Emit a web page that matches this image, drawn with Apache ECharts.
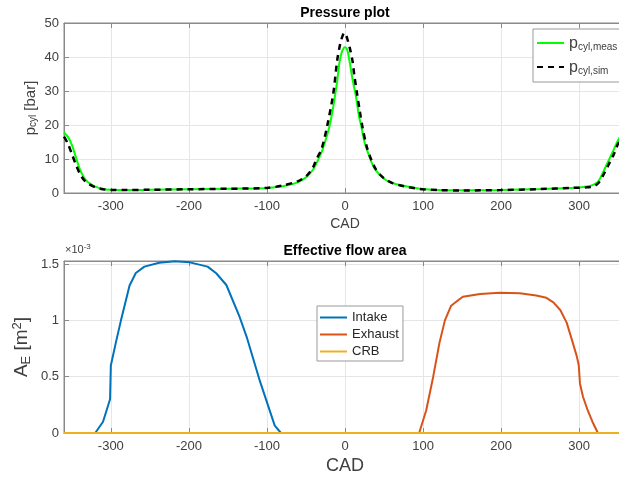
<!DOCTYPE html>
<html><head><meta charset="utf-8">
<script src="https://cdn.jsdelivr.net/npm/echarts@6/dist/echarts.min.js"></script>
<style>html,body{margin:0;padding:0;background:#fff}#c{width:619px;height:480px}</style>
</head><body><div id="c"></div>
<script>
// ---- tick labels ----
const cadTicks = [-300, -200, -100, 0, 100, 200, 300];
const pressureTicks = [0, 10, 20, 30, 40, 50];
const areaTicks = [0, 0.5, 1, 1.5]; // in 1e-3 m^2

// ---- pressure plot (bar) ----
const pMeasCad = [-360,-355,-350,-345,-340,-335,-330,-320,-310,-300,-290,-280,-250,-200,-150,-120,-100,-90,-80,-70,-60,-50,-45,-40,-35,-30,-25,-20,-15,-10,-7,-4,0,3,6,10,14,18,21,25,30,35,40,50,60,70,80,90,100,120,150,200,250,290,300,310,318,325,331,337,344,350,360];
const pMeasVal = [17.8,16.5,14.2,10.7,7.2,4.8,3.3,1.9,1.2,0.95,0.85,0.85,0.95,1.1,1.25,1.35,1.5,1.7,2.0,2.5,3.2,4.6,5.7,7.2,9.5,12.0,15.5,19.5,25.5,33,38.5,41.5,42.9,42,38.5,33,28.5,22.5,19.5,15,11.5,8.5,6.5,4.2,3.0,2.35,1.9,1.5,1.2,0.9,0.8,0.9,1.2,1.5,1.6,1.9,2.4,3.6,6.3,9.2,12.6,15.6,19];
const pSimCad = [-360,-355,-350,-345,-340,-335,-330,-320,-310,-300,-280,-250,-200,-150,-100,-80,-60,-50,-45,-40,-37,-30,-23,-15,-10,-6,-3,-1,1,3,6,9.5,12,15.4,19,22.3,28,33.8,40,50,60,70,80,90,100,120,150,200,250,290,300,310,318,325,331,337,344,350,360];
const pSimVal = [16.6,14.5,11.5,8.5,5.8,4.0,2.9,1.7,1.1,0.9,0.85,0.95,1.1,1.25,1.5,2.2,3.5,4.9,6.2,8,9.7,13,19.5,29.3,39,44,46.3,47.1,46.6,45.3,42.8,39,34.5,29.3,24,19.5,13.5,9.7,6.8,4.3,3.0,2.3,1.8,1.4,1.1,0.85,0.75,0.85,1.15,1.5,1.55,1.7,1.9,3.0,5.3,8,11.2,14.5,18];

// ---- effective flow area (1e-3 m^2) ----
const intakeCad = [-360,-320,-310,-301,-300,-293,-287,-276,-268,-257,-238,-218,-199,-176,-165,-152,-135,-126,-109,-90,-82,360];
const intakeVal = [0,0,0.1,0.3,0.6,0.82,1.0,1.31,1.42,1.477,1.512,1.525,1.515,1.477,1.418,1.314,1.03,0.854,0.46,0.065,0,0];
const exhaustCad = [-360,95,104,113,121,128,136,147,151,173,198,224,245,258,267,276,284,291,297,299.5,301,305,311,317,324,360];
const exhaustVal = [0,0,0.2,0.5,0.8,1.0,1.13,1.19,1.21,1.234,1.245,1.24,1.22,1.2,1.16,1.09,0.98,0.82,0.68,0.6,0.44,0.32,0.2,0.1,0,0];
const crbCad = [-360, 360];
const crbVal = [0, 0];

const pair = (xs, ys) => xs.map((x, i) => [x, ys[i]]);
const FONT = 'Liberation Sans, Arial, Helvetica, sans-serif';
const AX = '#8a8a8a';
const TXT = '#404040';

function xAxisDef(gi, nameSize, show) {
  return {
    type: 'value', gridIndex: gi, min: -360, max: 360,
    name: show ? 'CAD' : '', nameLocation: 'middle', nameGap: 24, nameMoveOverlap: false,
    nameTextStyle: { fontFamily: FONT, fontSize: nameSize, color: TXT },
    axisLine: { show: true, onZero: false, lineStyle: { color: AX, width: 1 } },
    axisTick: { show: true, inside: true, length: 5, customValues: cadTicks, lineStyle: { color: AX } },
    axisLabel: { show: show, customValues: cadTicks, margin: 7, fontFamily: FONT, fontSize: 13, color: TXT },
    splitLine: { show: show, lineStyle: { color: '#e6e6e6', width: 1 } },
    position: show ? 'bottom' : 'top'
  };
}

const legendItem = { color: 'rgba(0,0,0,0)', borderWidth: 0, opacity: 0 };

const option = {
  backgroundColor: '#fff',
  animation: false,
  grid: [
    { left: 64, top: 23, width: 562, height: 170, show: true, borderColor: AX, borderWidth: 1, backgroundColor: '#fff', containLabel: false, outerBoundsMode: 'none' },
    { left: 64, top: 261, width: 562, height: 172, show: true, borderColor: AX, borderWidth: 1, backgroundColor: '#fff', containLabel: false, outerBoundsMode: 'none' }
  ],
  xAxis: [
    xAxisDef(0, 14, true), xAxisDef(1, 18, true),
    xAxisDef(0, 14, false), xAxisDef(1, 18, false)
  ],
  yAxis: [
    {
      type: 'value', gridIndex: 0, min: 0, max: 50, interval: 10,
      name: '{a|p}{s|cyl}{a| [bar]}', nameLocation: 'middle', nameGap: 26, nameRotate: 90, nameMoveOverlap: false,
      nameTextStyle: { fontFamily: FONT, color: TXT, rich: {
        a: { fontSize: 15, fontFamily: FONT, color: TXT, verticalAlign: 'bottom', lineHeight: 18 },
        s: { fontSize: 10, fontFamily: FONT, color: TXT, verticalAlign: 'bottom', lineHeight: 12 }
      } },
      axisLine: { show: true, onZero: false, lineStyle: { color: AX } },
      axisTick: { show: true, inside: true, length: 5, lineStyle: { color: AX } },
      axisLabel: { margin: 5, fontFamily: FONT, fontSize: 13, color: TXT },
      splitLine: { show: true, lineStyle: { color: '#e6e6e6' } }
    },
    {
      type: 'value', gridIndex: 1, min: 0, max: 1.527,
      name: '{a|A}{s|E}{a| [m}{u|2}{a|]}', nameLocation: 'middle', nameGap: 31, nameRotate: 90, nameMoveOverlap: false,
      nameTextStyle: { fontFamily: FONT, color: TXT, rich: {
        a: { fontSize: 19, fontFamily: FONT, color: TXT, verticalAlign: 'middle', lineHeight: 22 },
        s: { fontSize: 13, fontFamily: FONT, color: TXT, verticalAlign: 'bottom', lineHeight: 10, padding: [14, 0, 0, 0] },
        u: { fontSize: 13, fontFamily: FONT, color: TXT, verticalAlign: 'top', lineHeight: 10, padding: [0, 0, 14, 0] }
      } },
      axisLine: { show: true, onZero: false, lineStyle: { color: AX } },
      axisTick: { show: true, inside: true, length: 5, customValues: areaTicks, lineStyle: { color: AX } },
      axisLabel: { margin: 5, customValues: areaTicks, fontFamily: FONT, fontSize: 13, color: TXT,
        formatter: v => String(parseFloat(v.toFixed(3))) },
      splitLine: { show: true, lineStyle: { color: '#e6e6e6' } }
    }
  ],
  legend: [
    {
      data: ['p_cyl,meas', 'p_cyl,sim'], orient: 'vertical', left: 533, top: 29,
      itemWidth: 27, itemHeight: 14, itemGap: 8, padding: [7, 4, 6, 3],
      borderColor: '#999', borderWidth: 1, backgroundColor: '#fff',
      itemStyle: legendItem,
      formatter: n => '{p|p}{s|' + n.split('_')[1] + '}',
      textStyle: { fontFamily: FONT, color: TXT, rich: {
        p: { fontSize: 16, fontFamily: FONT, color: TXT, verticalAlign: 'bottom', lineHeight: 18 },
        s: { fontSize: 10, fontFamily: FONT, color: TXT, verticalAlign: 'bottom', lineHeight: 13 }
      } }
    },
    {
      data: ['Intake', 'Exhaust', 'CRB'], orient: 'vertical', left: 317, top: 306,
      itemWidth: 27, itemHeight: 12, itemGap: 4, padding: [5, 4, 3, 2],
      borderColor: '#999', borderWidth: 1, backgroundColor: '#fff',
      itemStyle: legendItem,
      textStyle: { fontFamily: FONT, fontSize: 13, color: '#262626' }
    }
  ],
  graphic: [
    { type: 'text', x: 345, y: 13, style: { text: 'Pressure plot', textAlign: 'center', textVerticalAlign: 'middle', fontFamily: FONT, fontSize: 14, fontWeight: 'bold', fill: '#000' } },
    { type: 'text', x: 345, y: 251, style: { text: 'Effective flow area', textAlign: 'center', textVerticalAlign: 'middle', fontFamily: FONT, fontSize: 14, fontWeight: 'bold', fill: '#000' } },
    { type: 'text', x: 65, y: 250, style: { text: '{a|×10}{s|-3}', textVerticalAlign: 'middle', rich: {
      a: { fontSize: 11, fontFamily: FONT, fill: TXT, color: TXT },
      s: { fontSize: 8, fontFamily: FONT, fill: TXT, color: TXT, verticalAlign: 'top', padding: [0, 0, 6, 0] }
    } } }
  ],
  series: [
    { name: 'p_cyl,meas', type: 'line', xAxisIndex: 0, yAxisIndex: 0, data: pair(pMeasCad, pMeasVal),
      showSymbol: false, symbol: 'none', smooth: 0.3, lineStyle: { color: '#00ff00', width: 2 }, itemStyle: { color: '#00ff00' } },
    { name: 'p_cyl,sim', type: 'line', xAxisIndex: 0, yAxisIndex: 0, data: pair(pSimCad, pSimVal),
      showSymbol: false, symbol: 'none', smooth: 0.3, lineStyle: { color: '#000', width: 2.5, type: [6, 5] }, itemStyle: { color: '#000' } },
    { name: 'Intake', type: 'line', xAxisIndex: 1, yAxisIndex: 1, data: pair(intakeCad, intakeVal),
      showSymbol: false, symbol: 'none', lineStyle: { color: '#0072BD', width: 2 }, itemStyle: { color: '#0072BD' } },
    { name: 'Exhaust', type: 'line', xAxisIndex: 1, yAxisIndex: 1, data: pair(exhaustCad, exhaustVal),
      showSymbol: false, symbol: 'none', lineStyle: { color: '#D95319', width: 2 }, itemStyle: { color: '#D95319' } },
    { name: 'CRB', type: 'line', xAxisIndex: 1, yAxisIndex: 1, data: pair(crbCad, crbVal),
      showSymbol: false, symbol: 'none', lineStyle: { color: '#EDB120', width: 2 }, itemStyle: { color: '#EDB120' } }
  ]
};
const chart = echarts.init(document.getElementById('c'), null, { renderer: 'canvas' });
chart.setOption(option);
</script></body></html>
